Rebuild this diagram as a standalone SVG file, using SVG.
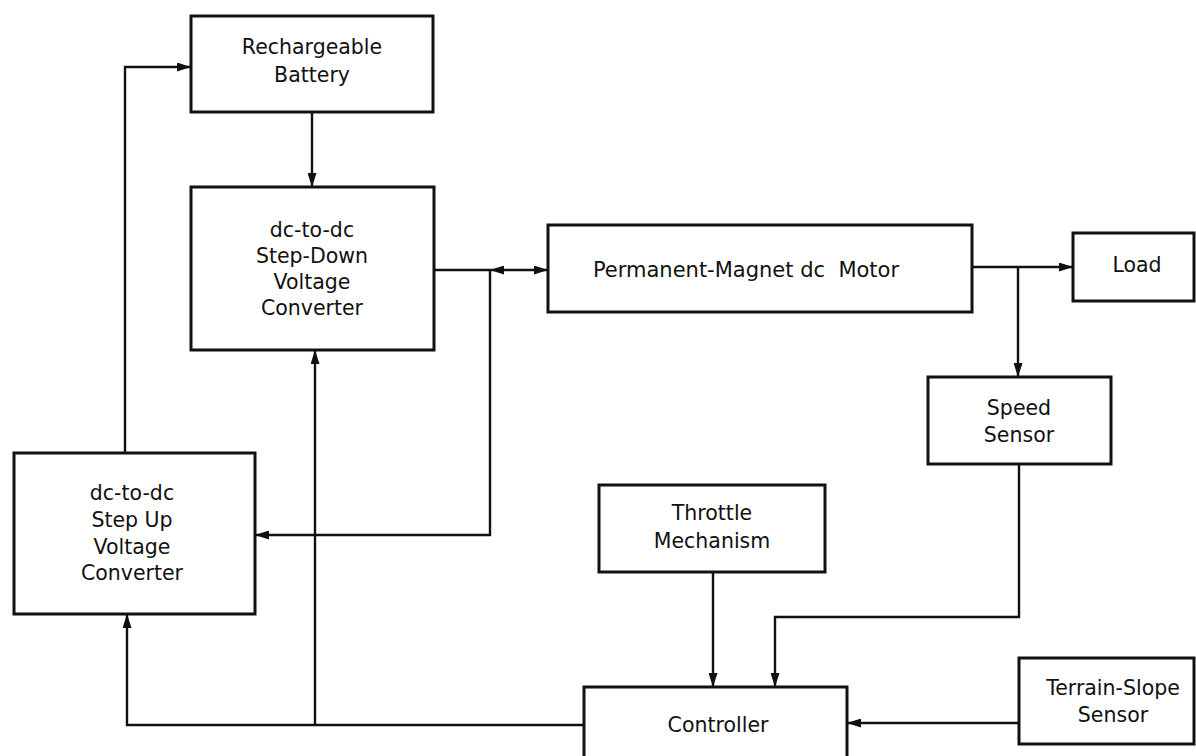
<svg xmlns="http://www.w3.org/2000/svg" width="1196" height="756" viewBox="0 0 1196 756">
<defs>
<style>
.box{fill:#fff;stroke:#111;stroke-width:3}
.lbl{font-family:"DejaVu Sans",sans-serif;font-size:20.5px;fill:#111;text-anchor:middle;dominant-baseline:central}
.wire{fill:none;stroke:#111;stroke-width:2.4}
</style>
<marker id="ah" viewBox="0 0 14 9" refX="14" refY="4.5" markerWidth="14" markerHeight="9" markerUnits="userSpaceOnUse" orient="auto-start-reverse">
<path d="M0,0 L14,4.5 L0,9 Z" fill="#111"/>
</marker>
</defs>
<rect width="1196" height="756" fill="#fff"/>
<g id="connectors">
<path class="wire" d="M125,453 V67 H191" marker-end="url(#ah)"/>
<path class="wire" d="M312,112 V187" marker-end="url(#ah)"/>
<path class="wire" d="M434,270 H490"/>
<path class="wire" d="M490,270 H548" marker-start="url(#ah)" marker-end="url(#ah)"/>
<path class="wire" d="M490,270 V535 H255" marker-end="url(#ah)"/>
<path class="wire" d="M584,725 H127 V614" marker-end="url(#ah)"/>
<path class="wire" d="M315,725 V350" marker-end="url(#ah)"/>
<path class="wire" d="M972,267 H1073" marker-end="url(#ah)"/>
<path class="wire" d="M1018,267 V377" marker-end="url(#ah)"/>
<path class="wire" d="M1019,464 V617 H775 V687" marker-end="url(#ah)"/>
<path class="wire" d="M713,572 V687" marker-end="url(#ah)"/>
<path class="wire" d="M1019,723 H847" marker-end="url(#ah)"/>
</g>
<g id="battery">
<rect class="box" x="191" y="16" width="242" height="96"/>
<text class="lbl" x="312" y="47">Rechargeable</text>
<text class="lbl" x="312" y="75">Battery</text>
</g>
<g id="stepdown">
<rect class="box" x="191" y="187" width="243" height="163"/>
<text class="lbl" x="312" y="230">dc-to-dc</text>
<text class="lbl" x="312" y="256">Step-Down</text>
<text class="lbl" x="312" y="282">Voltage</text>
<text class="lbl" x="312" y="308">Converter</text>
</g>
<g id="motor">
<rect class="box" x="548" y="225" width="424" height="87"/>
<text class="lbl" x="746" y="270" style="font-size:21px" xml:space="preserve">Permanent-Magnet dc  Motor</text>
</g>
<g id="load">
<rect class="box" x="1073" y="233" width="121" height="68"/>
<text class="lbl" x="1137" y="265">Load</text>
</g>
<g id="speedsensor">
<rect class="box" x="928" y="377" width="183" height="87"/>
<text class="lbl" x="1019" y="408">Speed</text>
<text class="lbl" x="1019" y="435">Sensor</text>
</g>
<g id="stepup">
<rect class="box" x="14" y="453" width="241" height="161"/>
<text class="lbl" x="132" y="493">dc-to-dc</text>
<text class="lbl" x="132" y="520">Step Up</text>
<text class="lbl" x="132" y="547">Voltage</text>
<text class="lbl" x="132" y="573">Converter</text>
</g>
<g id="throttle">
<rect class="box" x="599" y="485" width="226" height="87"/>
<text class="lbl" x="712" y="513">Throttle</text>
<text class="lbl" x="712" y="541">Mechanism</text>
</g>
<g id="controller">
<rect class="box" x="584" y="687" width="263" height="90"/>
<text class="lbl" x="718" y="725">Controller</text>
</g>
<g id="terrain">
<rect class="box" x="1019" y="658" width="175" height="86"/>
<text class="lbl" x="1113" y="688">Terrain-Slope</text>
<text class="lbl" x="1113" y="715">Sensor</text>
</g>
</svg>
